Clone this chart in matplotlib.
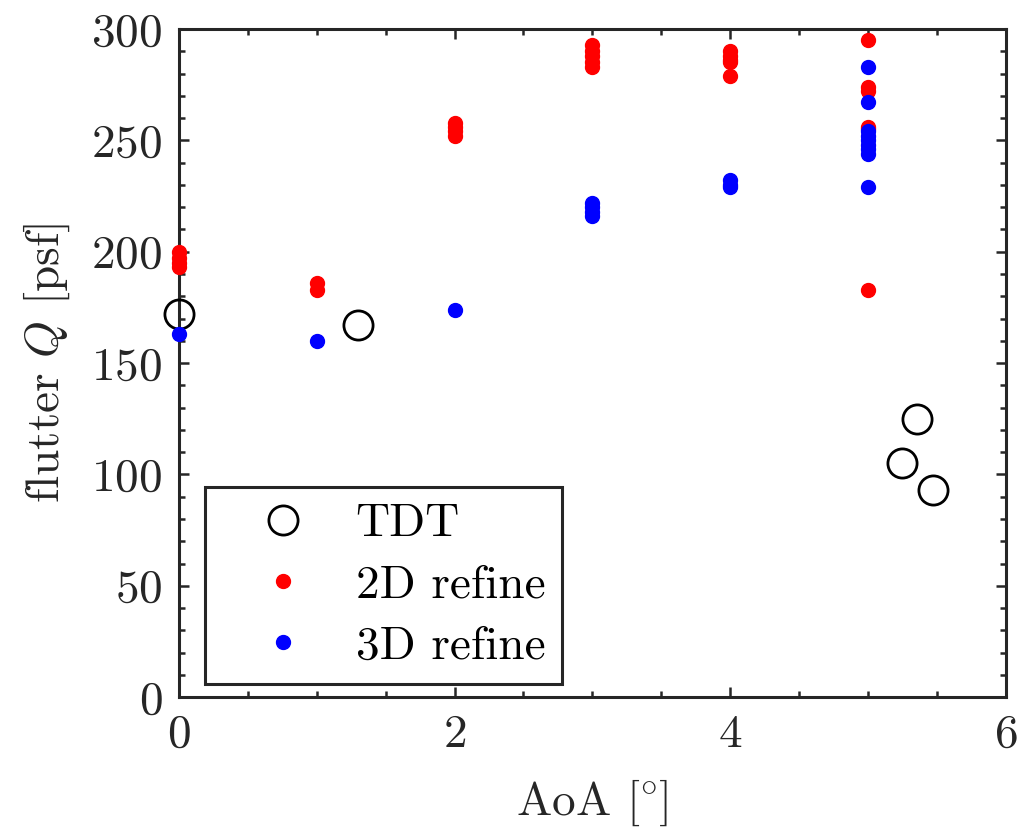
import matplotlib
matplotlib.use('Agg')
import matplotlib.pyplot as plt
from matplotlib.ticker import MultipleLocator

# TDT wind tunnel measurements
tdt_aoa = [0.0, 1.3, 5.25, 5.36, 5.47]
tdt_q = [172, 167, 105, 125, 93]

# 2D refine results
aoa_2d = [0, 0, 0, 0, 1, 1, 2, 2, 2, 2, 3, 3, 3, 3, 3, 4, 4, 4, 4, 4, 5, 5, 5, 5, 5, 5]
q_2d = [200, 197, 195, 193, 186, 183, 258, 256, 254, 252, 293, 290, 288, 285, 283,
        290, 288, 286, 285, 279, 295, 274, 272, 256, 255, 183]

# 3D refine results
aoa_3d = [0, 1, 2, 3, 3, 3, 3, 4, 4, 4, 5, 5, 5, 5, 5, 5, 5, 5, 5]
q_3d = [163, 160, 174, 222, 220, 218, 216, 232, 230, 229,
        283, 267, 254, 252, 250, 248, 246, 244, 229]

plt.rcParams['font.family'] = ['cmr10', 'DejaVu Serif']
plt.rcParams['mathtext.fontset'] = 'cm'
plt.rcParams['axes.formatter.use_mathtext'] = True

dark = '#262626'
fig = plt.figure(figsize=(10.23, 8.4), dpi=100)
ax = fig.add_axes([0.175, 0.170, 0.808, 0.7955])

ax.plot(tdt_aoa, tdt_q, 'o', color='none', markeredgecolor='black',
        markersize=21, markeredgewidth=2, label='TDT', clip_on=False, zorder=3)
ax.plot(aoa_2d, q_2d, 'o', color='red', markersize=10, label='2D refine',
        clip_on=False, zorder=4)
ax.plot(aoa_3d, q_3d, 'o', color='blue', markersize=10, label='3D refine',
        clip_on=False, zorder=5)

ax.set_xlim(0, 6)
ax.set_ylim(0, 300)
ax.set_xticks([0, 2, 4, 6])
ax.set_yticks(range(0, 301, 50))
ax.xaxis.set_minor_locator(MultipleLocator(0.5))
ax.yaxis.set_minor_locator(MultipleLocator(10))
ax.tick_params(which='both', direction='in', top=True, right=True,
               width=1.8, colors=dark)
ax.tick_params(which='major', length=7, labelsize=34, pad=12)
ax.tick_params(which='minor', length=4)
for s in ax.spines.values():
    s.set_linewidth(2.2)
    s.set_color(dark)

ax.set_xlabel(r'AoA $[\!^\circ\!]$', fontsize=34, color=dark, labelpad=16)
ax.set_ylabel(r'flutter $Q$ [psf]', fontsize=34, color=dark, labelpad=14)

leg = ax.legend(loc='lower left', bbox_to_anchor=(0.031, 0.02), fontsize=34,
                fancybox=False, edgecolor=dark, framealpha=1,
                borderpad=0.35, handletextpad=0.25, labelspacing=0.4,
                handlelength=2.6, borderaxespad=0)
leg.get_frame().set_linewidth(2.2)

fig.savefig('out.png', dpi=100)
